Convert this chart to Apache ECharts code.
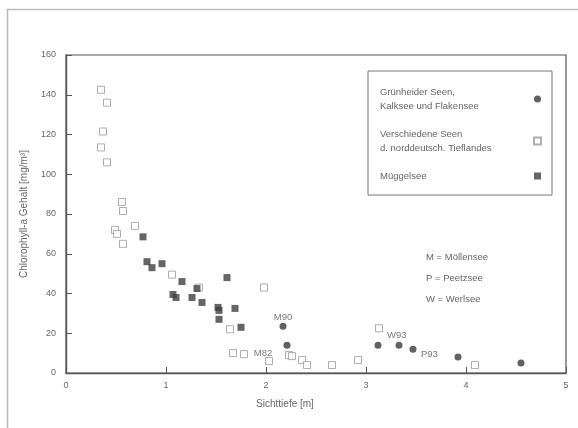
<!DOCTYPE html>
<html>
<head>
<meta charset="utf-8">
<script src="https://cdn.jsdelivr.net/npm/echarts@6/dist/echarts.min.js"></script>
<style>
  html, body { margin: 0; padding: 0; background: #fff; }
  #chart { width: 578px; height: 428px; }
</style>
</head>
<body>
<div id="chart"></div>
<script>
// Sichttiefe [m] vs. Chlorophyll-a Gehalt [mg/m³]
const grunheiderX = [2.17, 2.21, 3.12, 3.33, 3.47, 3.92, 4.55];
const grunheiderY = [23.5, 14, 14, 14, 12, 8, 5];

const verschiedeneX = [0.35, 0.41, 0.37, 0.35, 0.41, 0.56, 0.57, 0.69, 0.49, 0.51, 0.57,
  1.06, 1.33, 1.98, 1.64, 1.67, 1.78, 2.03, 2.23, 2.26, 2.36, 2.41, 2.66, 2.92, 3.13, 4.09];
const verschiedeneY = [142.5, 136, 121.5, 113.5, 106, 86, 81.5, 74, 72, 70, 65,
  49.5, 43, 43, 22, 10, 9.5, 6, 9, 8.5, 6.5, 4, 4, 6.5, 22.5, 4];

const muggelX = [0.77, 0.81, 0.86, 0.96, 1.07, 1.10, 1.16, 1.26, 1.31, 1.36, 1.52, 1.53, 1.53, 1.61, 1.69, 1.75];
const muggelY = [68.5, 56, 53, 55, 39.5, 38, 46, 38, 42.5, 35.5, 33, 31.5, 27, 48, 32.5, 23];

// Jahreskennzeichen an einzelnen Punkten
const tagNames = ['M90', 'M82', 'W93', 'P93'];
const tagX = [2.17, 2.03, 3.13, 3.47];
const tagY = [23.5, 6, 22.5, 12];

const xTicks = [0, 1, 2, 3, 4, 5];
const yTicks = [0, 20, 40, 60, 80, 100, 120, 140, 160];

const legendNames = [
  'Grünheider Seen,\nKalksee und Flakensee',
  'Verschiedene Seen\nd. norddeutsch. Tieflandes',
  'Müggelsee'
];
const keyLines = ['M = Möllensee', 'P = Peetzsee', 'W = Werlsee'];

const zip = (xs, ys) => xs.map((x, i) => [x, ys[i]]);
const FONT = 'Liberation Sans, Arial, sans-serif';
const TXT = '#666';

const chart = echarts.init(document.getElementById('chart'), null, { renderer: 'canvas' });

chart.setOption({
  backgroundColor: '#fff',
  animation: false,
  textStyle: { fontFamily: FONT },
  grid: {
    left: 66, right: 12, top: 55, bottom: 55,
    show: true, borderColor: '#555', borderWidth: 1.2, backgroundColor: 'transparent'
  },
  xAxis: {
    type: 'value', min: xTicks[0], max: xTicks[xTicks.length - 1], interval: 1,
    name: 'Sichttiefe [m]', nameLocation: 'middle', nameGap: 26,
    nameTextStyle: { fontSize: 10, color: TXT, padding: [0, 62, 0, 0] },
    axisLine: { lineStyle: { color: '#555', width: 1.4 } },
    axisTick: { inside: true, length: 6, lineStyle: { color: '#555' } },
    axisLabel: { margin: 8, fontSize: 9, color: TXT },
    splitLine: { show: false }
  },
  yAxis: {
    type: 'value', min: yTicks[0], max: yTicks[yTicks.length - 1], interval: 20,
    name: 'Chlorophyll-a Gehalt [mg/m³]', nameLocation: 'middle', nameGap: 37,
    nameTextStyle: { fontSize: 10, color: TXT },
    axisLine: { lineStyle: { color: '#555', width: 1.4 } },
    axisTick: { inside: true, length: 6, lineStyle: { color: '#555' } },
    axisLabel: { margin: 10, fontSize: 9, color: TXT },
    splitLine: { show: false }
  },
  legend: {
    orient: 'vertical', left: 368, top: 71,
    padding: [16, 10, 14, 12], itemGap: 18, align: 'right',
    borderColor: '#777', borderWidth: 1, backgroundColor: '#fff',
    itemWidth: 7, itemHeight: 7,
    formatter: name => name.split('\n').map(l => '{t|' + l + '}').join('\n'),
    textStyle: {
      width: 149, fontFamily: FONT,
      rich: { t: { align: 'left', fontSize: 9.5, color: TXT, lineHeight: 14, fontFamily: FONT } }
    },
    data: legendNames
  },
  series: [
    {
      name: legendNames[0], type: 'scatter', symbol: 'circle', symbolSize: 7,
      itemStyle: { color: '#3a3a3a' },
      data: zip(grunheiderX, grunheiderY), z: 3
    },
    {
      name: legendNames[1], type: 'scatter', symbol: 'rect', symbolSize: 7,
      itemStyle: { color: '#fff', borderColor: '#9a9a9a', borderWidth: 1 },
      data: zip(verschiedeneX, verschiedeneY), z: 2
    },
    {
      name: legendNames[2], type: 'scatter', symbol: 'rect', symbolSize: 7,
      itemStyle: { color: '#3f3f3f' },
      data: zip(muggelX, muggelY), z: 3
    },
    {
      name: 'tags', type: 'scatter', symbolSize: 0, silent: true,
      label: {
        show: true, fontSize: 9.5, color: '#555', fontFamily: FONT,
        formatter: p => p.name
      },
      data: tagNames.map((n, i) => {
        const pos = [
          { position: 'top', distance: 4 },
          { position: 'top', offset: [-6, 0], distance: 3 },
          { position: 'right', offset: [4, 7], distance: 4 },
          { position: 'right', offset: [4, 5], distance: 4 }
        ][i];
        return { name: n, value: [tagX[i], tagY[i]], label: pos };
      }),
      z: 4
    }
  ],
  graphic: [
    { type: 'line', shape: { x1: 7.5, y1: 9, x2: 7.5, y2: 428 }, style: { stroke: '#bbb', lineWidth: 1.5 } },
    { type: 'line', shape: { x1: 7, y1: 9.5, x2: 578, y2: 9.5 }, style: { stroke: '#bbb', lineWidth: 1.5 } },
    ...keyLines.map((t, i) => ({
      type: 'text', left: 426, top: 252 + i * 21,
      style: { text: t, fontSize: 9.5, fill: TXT, fontFamily: FONT }
    }))
  ]
});
</script>
</body>
</html>
